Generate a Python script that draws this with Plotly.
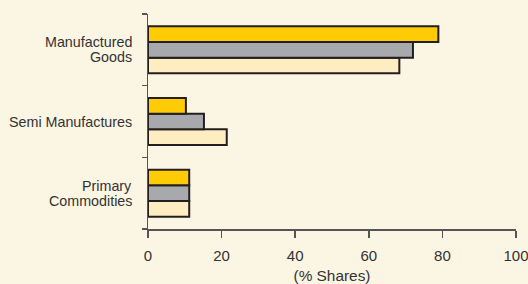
import plotly.graph_objects as go

categories = ["Primary\nCommodities", "Semi Manufactures", "Manufactured\nGoods"]
series_names = ["Series C", "Series B", "Series A"]
values_light = [11.2, 21.4, 68.3]
values_gray = [11.2, 15.2, 72.0]
values_yellow = [11.2, 10.3, 78.9]
x_ticks = [0, 20, 40, 60, 80, 100]

colors = {"light": "#FDEDC0", "gray": "#A7A9AC", "yellow": "#FFCB05"}
edge = "#231F20"
bg = "#FBF5E4"
txt = "#333333"
axc = "#555555"
fam = "Liberation Sans, Arial, sans-serif"
fsize = 14.3
line_step = 15.3

fig = go.Figure()
for name, vals, col in [
    (series_names[0], values_light, colors["light"]),
    (series_names[1], values_gray, colors["gray"]),
    (series_names[2], values_yellow, colors["yellow"]),
]:
    fig.add_trace(go.Bar(
        y=categories, x=vals, orientation="h", name=name,
        marker=dict(color=col, line=dict(color=edge, width=2)),
        hoverinfo="skip",
    ))

# category labels with tight line spacing
for cat in categories:
    lines = cat.split("\n")
    n = len(lines)
    for i, ln in enumerate(lines):
        offset = ((n - 1) / 2 - i) * line_step
        fig.add_annotation(
            x=0, xref="paper", xanchor="right", xshift=-14,
            y=cat, yref="y", yanchor="middle", yshift=offset,
            text=ln, showarrow=False,
            font=dict(size=fsize, color=txt, family=fam),
        )

fig.update_layout(
    width=528, height=284,
    margin=dict(l=148, r=12, t=14, b=55),
    paper_bgcolor=bg, plot_bgcolor=bg,
    barmode="group", bargap=0.345, bargroupgap=0,
    showlegend=False,
    font=dict(family=fam, size=fsize, color=txt),
)
fig.update_xaxes(
    range=[0, 100], tickvals=x_ticks, ticktext=[str(t) for t in x_ticks],
    showgrid=False, zeroline=False, showline=True, linecolor=axc, linewidth=1.5,
    ticks="outside", ticklen=7, tickcolor=axc, tickwidth=1.5,
    ticklabeloverflow="allow", ticklabelstandoff=5,
    tickfont=dict(family=fam, size=15, color=txt),
    title=dict(text="(% Shares)", standoff=8, font=dict(family=fam, size=15.4, color=txt)),
    automargin=False,
)
fig.update_yaxes(
    categoryorder="array", categoryarray=categories, showticklabels=False,
    showgrid=False, zeroline=False, showline=True, linecolor=axc, linewidth=1.5,
    ticks="outside", ticklen=5, tickcolor=axc, tickwidth=1.5, tickson="boundaries",
    automargin=False,
)

fig.write_html(
    "out.html",
    config={"displayModeBar": False, "staticPlot": True},
    post_script="document.body.style.margin='0';document.body.style.background='%s';" % bg,
)
